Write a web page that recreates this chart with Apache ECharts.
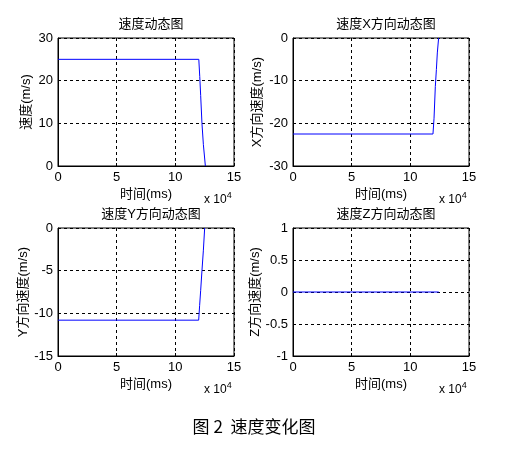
<!DOCTYPE html>
<html>
<head>
<meta charset="utf-8">
<script src="https://cdn.jsdelivr.net/npm/echarts@6/dist/echarts.min.js"></script>
<style>
  html, body { margin: 0; padding: 0; background: #fff; }
  #main { width: 508px; height: 452px; }
</style>
</head>
<body>
<div id="main"></div>
<script>
// 时间单位: x 10^4 ms
const tSpeed = [0, 12, 12.08, 12.16, 12.27, 12.39, 12.56]
const vSpeed = [25, 25, 21, 16.5, 10, 5, 0]
const tX = [0, 11.93, 12.02, 12.13, 12.22, 12.3, 12.41]
const vX = [-22.5, -22.5, -18.8, -11.4, -7.4, -3.5, 0]
const tY = [0, 11.99, 12.07, 12.16, 12.27, 12.39, 12.5]
const vY = [-10.8, -10.8, -9.1, -7.3, -5, -2.6, 0]
const tZ = [0, 12.42]
const vZ = [0, 0]

const titles = ['速度动态图', '速度X方向动态图', '速度Y方向动态图', '速度Z方向动态图']
const yNames = ['速度(m/s)', 'X方向速度(m/s)', 'Y方向速度(m/s)', 'Z方向速度(m/s)']
const yRanges = [[0, 30, 10], [-30, 0, 10], [-15, 0, 5], [-1, 1, 0.5]]
const xTicks = [0, 15, 5]
const caption = '图 2  速度变化图'

const font = 'Arial, "Liberation Sans", "Noto Sans CJK SC", sans-serif'
// 四个子图的位置
const boxes = [
  { left: 58, top: 38 },
  { left: 293, top: 38 },
  { left: 58, top: 228 },
  { left: 293, top: 228 }
]
const W = 176, H = 128
const nameGaps = [25, 29, 26, 29]

const pairs = [[tSpeed, vSpeed], [tX, vX], [tY, vY], [tZ, vZ]]

const dashed = { show: true, lineStyle: { color: '#000', type: [3, 3], width: 1 } }

const option = {
  animation: false,
  backgroundColor: '#fff',
  title: boxes.map(function (b, i) {
    return {
      text: titles[i],
      left: b.left + W / 2,
      top: b.top - 25,
      textAlign: 'center',
      textStyle: { fontSize: 13, fontWeight: 'normal', color: '#000', fontFamily: font }
    }
  }),
  grid: boxes.map(function (b) {
    return { left: b.left, top: b.top, width: W, height: H, show: true, borderColor: '#000', borderWidth: 1, backgroundColor: 'transparent' }
  }),
  xAxis: boxes.map(function (b, i) {
    return {
      type: 'value', gridIndex: i, min: xTicks[0], max: xTicks[1], interval: xTicks[2],
      name: '时间(ms)', nameLocation: 'middle', nameGap: 22,
      nameTextStyle: { fontSize: 13, color: '#000', fontFamily: font },
      axisLine: { show: true, onZero: false, lineStyle: { color: '#000' } },
      axisTick: { show: true, inside: true, length: 3, lineStyle: { color: '#000' } },
      axisLabel: { fontSize: 13, color: '#000', margin: 5, fontFamily: font },
      splitLine: dashed
    }
  }),
  yAxis: boxes.map(function (b, i) {
    const r = yRanges[i]
    return {
      type: 'value', gridIndex: i, min: r[0], max: r[1], interval: r[2],
      name: yNames[i], nameLocation: 'middle', nameGap: nameGaps[i],
      nameTextStyle: { fontSize: 13, color: '#000', fontFamily: font },
      axisLine: { show: true, onZero: false, lineStyle: { color: '#000' } },
      axisTick: { show: true, inside: true, length: 3, lineStyle: { color: '#000' } },
      axisLabel: { fontSize: 13, color: '#000', margin: 5, fontFamily: font },
      splitLine: dashed
    }
  }),
  series: pairs.map(function (p, i) {
    return {
      type: 'line', xAxisIndex: i, yAxisIndex: i,
      data: p[0].map(function (t, k) { return [t, p[1][k]] }),
      showSymbol: false, symbol: 'none',
      lineStyle: { color: '#0000ff', width: 1 },
      z: 3
    }
  }),
  graphic: boxes.map(function (b) {
    return {
      type: 'text', left: b.left + W - 30, top: b.top + H + 25,
      style: { text: 'x 10{s|4}', rich: { s: { fontSize: 9, verticalAlign: 'top', padding: [0, 0, 8, 0] } }, font: '12px ' + font, fill: '#000' }
    }
  }).concat([{
    type: 'text', left: 'center', top: 418,
    style: { text: caption, font: '17px "Noto Sans CJK SC", sans-serif', fill: '#000' }
  }])
}

const myChart = echarts.init(document.getElementById('main'))
myChart.setOption(option)
</script>
</body>
</html>
